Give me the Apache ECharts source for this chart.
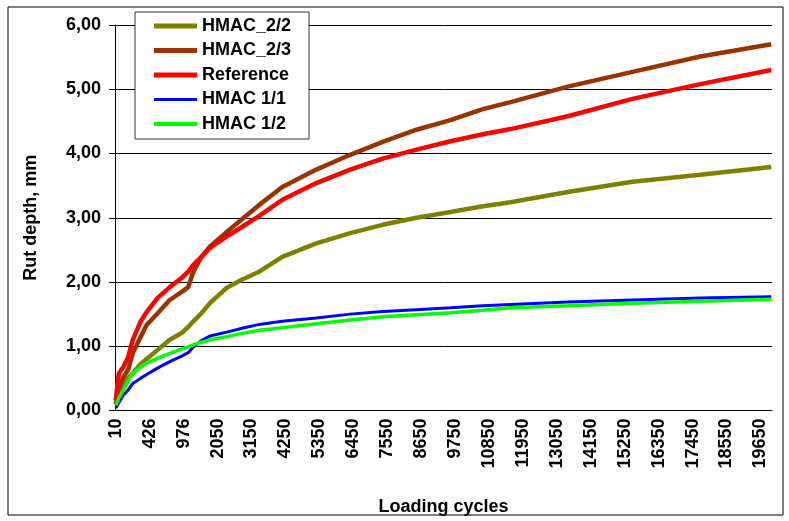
<!DOCTYPE html>
<html>
<head>
<meta charset="utf-8">
<script src="https://cdn.jsdelivr.net/npm/echarts@6/dist/echarts.min.js"></script>
<style>
html,body{margin:0;padding:0;background:#fff;}
#chart{width:789px;height:521px;}
</style>
</head>
<body>
<div id="chart"></div>
<script>
// Tick labels shown on the category axis (every 22nd category)
const labelCycles = [10, 426, 976, 2050, 3150, 4250, 5350, 6450, 7550, 8650, 9750,
  10850, 11950, 13050, 14150, 15250, 16350, 17450, 18550, 19650];
const categoriesPerLabel = 22;
const tailCycles = [19650, 19700, 19750, 19800, 19850, 19900, 19950, 20000];

// Build the category list (loading cycles)
const categories = [];
for (let k = 0; k < labelCycles.length - 1; k++) {
  const a = labelCycles[k], b = labelCycles[k + 1];
  for (let j = 0; j < categoriesPerLabel; j++) categories.push(String(Math.round(a + (b - a) * j / categoriesPerLabel)));
}
tailCycles.forEach(c => categories.push(String(c)));

// Category indices at which the curves were read
const sampleIndex = [0, 2, 5, 8, 11, 16, 20, 27, 35, 43, 47, 50, 55, 61, 72, 82, 93, 108, 130, 152, 173, 195, 217, 238, 256, 293, 335, 379, 425];

const hmac22 = [0.10, 0.22, 0.37, 0.50, 0.58, 0.72, 0.80, 0.94, 1.10, 1.21, 1.30, 1.38, 1.50, 1.67, 1.91, 2.04, 2.16, 2.39, 2.60, 2.76, 2.89, 3.00, 3.09, 3.18, 3.24, 3.40, 3.56, 3.67, 3.79];
const hmac23 = [0.10, 0.35, 0.52, 0.63, 0.89, 1.14, 1.33, 1.51, 1.72, 1.85, 1.92, 2.14, 2.37, 2.55, 2.78, 2.98, 3.20, 3.48, 3.75, 3.98, 4.18, 4.37, 4.52, 4.69, 4.80, 5.04, 5.27, 5.51, 5.70];
const reference = [0.16, 0.58, 0.68, 0.83, 1.10, 1.38, 1.53, 1.75, 1.92, 2.07, 2.16, 2.26, 2.38, 2.53, 2.71, 2.86, 3.03, 3.28, 3.54, 3.75, 3.92, 4.06, 4.19, 4.30, 4.38, 4.58, 4.85, 5.08, 5.30];
const hmac11 = [0.04, 0.12, 0.24, 0.32, 0.42, 0.50, 0.56, 0.66, 0.76, 0.85, 0.90, 0.98, 1.08, 1.16, 1.22, 1.28, 1.34, 1.39, 1.44, 1.50, 1.54, 1.57, 1.60, 1.63, 1.65, 1.69, 1.72, 1.75, 1.77];
const hmac12 = [0.08, 0.20, 0.32, 0.46, 0.58, 0.67, 0.74, 0.81, 0.89, 0.96, 0.99, 1.02, 1.06, 1.10, 1.15, 1.20, 1.25, 1.29, 1.35, 1.41, 1.46, 1.49, 1.52, 1.56, 1.60, 1.63, 1.67, 1.70, 1.73];

const yTicks = [0, 1, 2, 3, 4, 5, 6];

const FONT = '"Liberation Sans", Arial, sans-serif';
const FS = 18;
const pair = vals => sampleIndex.map((i, k) => [i, vals[k]]);

const seriesDefs = [
  {name: 'HMAC_2/2', data: hmac22, color: '#808000', width: 4.5, icon: 'path://M0,0H43V5H0Z'},
  {name: 'HMAC_2/3', data: hmac23, color: '#993300', width: 4.5, icon: 'path://M0,0H43V5H0Z'},
  {name: 'Reference', data: reference, color: '#FF0000', width: 4.5, icon: 'path://M0,0H43V5H0Z'},
  {name: 'HMAC 1/1', data: hmac11, color: '#0000FF', width: 3, icon: 'path://M0,1H43V4H0Z'},
  {name: 'HMAC 1/2', data: hmac12, color: '#00FF00', width: 3.5, icon: 'path://M0,0.5H43V4.5H0Z'}
];

const chart = echarts.init(document.getElementById('chart'));
chart.setOption({
  animation: false,
  backgroundColor: '#fff',
  textStyle: {fontFamily: FONT},
  graphic: [{
    type: 'rect', shape: {x: 8, y: 7, width: 775, height: 508},
    style: {fill: 'none', stroke: '#000', lineWidth: 1}, silent: true, z: -1
  }],
  grid: {left: 115, right: 17, top: 25, bottom: 110.5, containLabel: false, outerBoundsMode: 'none'},
  legend: {
    orient: 'vertical', left: 135, top: 12,
    backgroundColor: '#fff', borderColor: '#333', borderWidth: 1,
    padding: [5, 18, 6, 19],
    itemWidth: 43, itemHeight: 5, itemGap: 6.5,
    textStyle: {fontFamily: FONT, fontWeight: 'bold', fontSize: FS, lineHeight: 18, color: '#000'},
    data: seriesDefs.map(s => ({name: s.name, icon: s.icon, itemStyle: {color: s.color, borderWidth: 0}}))
  },
  xAxis: {
    type: 'category', data: categories, boundaryGap: true,
    name: 'Loading cycles', nameLocation: 'middle', nameGap: 88,
    nameTextStyle: {fontFamily: FONT, fontWeight: 'bold', fontSize: FS, color: '#000'},
    axisLine: {lineStyle: {color: '#000', width: 1}},
    axisTick: {interval: 0, length: 5, lineStyle: {color: '#000'}},
    axisLabel: {interval: categoriesPerLabel - 1, rotate: 90, margin: 8,
      fontFamily: FONT, fontWeight: 'bold', fontSize: FS, color: '#000'},
    splitLine: {show: false}
  },
  yAxis: {
    type: 'value', min: yTicks[0], max: yTicks[yTicks.length - 1], interval: 1,
    name: 'Rut depth, mm', nameLocation: 'middle', nameGap: 75, nameRotate: 90,
    nameTextStyle: {fontFamily: FONT, fontWeight: 'bold', fontSize: FS, color: '#000'},
    axisLine: {show: true, lineStyle: {color: '#000', width: 1}},
    axisTick: {show: true, length: 6, lineStyle: {color: '#000'}},
    axisLabel: {margin: 14, fontFamily: FONT, fontWeight: 'bold', fontSize: FS, color: '#000',
      formatter: v => v.toFixed(2).replace('.', ',')},
    splitLine: {show: true, lineStyle: {color: '#000', width: 1}}
  },
  series: seriesDefs.map(s => ({
    name: s.name, type: 'line', data: pair(s.data),
    symbol: 'none', smooth: false,
    lineStyle: {color: s.color, width: s.width},
    itemStyle: {color: s.color}
  }))
});
</script>
</body>
</html>
